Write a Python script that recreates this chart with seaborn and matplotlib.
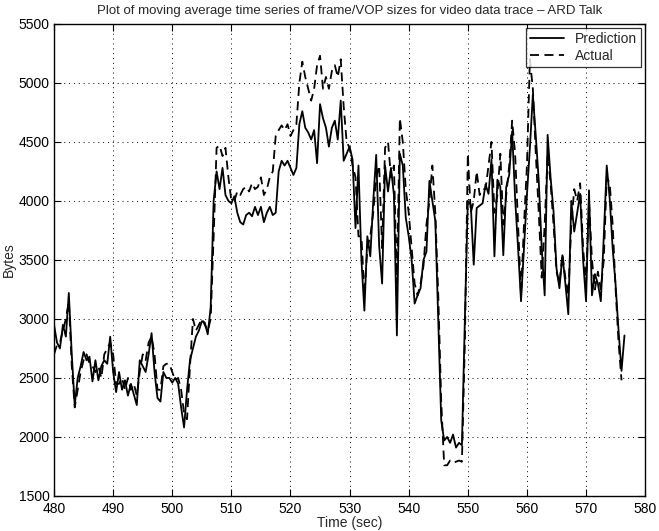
import numpy as np
import pandas as pd
import matplotlib
matplotlib.use("Agg")
import matplotlib.pyplot as plt
import seaborn as sns

# time axis (sec), 0.5 s resolution
t_start = 480.0
t_step = 0.5

prediction = [
    2950, 2800, 2750, 2950, 2850, 3220, 2700, 2270, 2500, 2600,   # 480.0-484.5
    2720, 2650, 2680, 2470, 2650, 2480, 2600, 2650, 2620, 2850,   # 485.0-489.5
    2550, 2380, 2550, 2400, 2480, 2350, 2450, 2360, 2270, 2650,   # 490.0-494.5
    2600, 2550, 2700, 2880, 2550, 2330, 2300, 2550, 2500, 2500,   # 495.0-499.5
    2460, 2500, 2450, 2250, 2080, 2400, 2650, 2750, 2850, 2900,   # 500.0-504.5
    2980, 2970, 2870, 3100, 4000, 4250, 4100, 4280, 4050, 4000,   # 505.0-509.5
    3980, 4040, 3900, 3820, 3800, 3880, 3900, 3870, 3950, 3880,   # 510.0-514.5
    3950, 3820, 3900, 3950, 3880, 3900, 4250, 4340, 4300, 4340,   # 515.0-519.5
    4280, 4220, 4280, 4650, 4760, 4620, 4580, 4520, 4600, 4320,   # 520.0-524.5
    4820, 4700, 4620, 4460, 4620, 4680, 4520, 4850, 4340, 4400,   # 525.0-529.5
    4460, 4350, 3770, 4300, 3500, 3070, 3700, 3530, 4000, 4390,   # 530.0-534.5
    3620, 3300, 4300, 4080, 4280, 4050, 2860, 4400, 4300, 3860,   # 535.0-539.5
    3700, 3500, 3130, 3200, 3260, 3500, 3570, 4170, 4000, 3830,   # 540.0-544.5
    2980, 2140, 1970, 2000, 1950, 2020, 1910, 1950, 1930, 3000,   # 545.0-549.5
    4000, 3970, 3460, 3940, 3960, 3980, 4140, 4060, 4350, 3530,   # 550.0-554.5
    4180, 4120, 3540, 4120, 4220, 4590, 4020, 3600, 3150, 3600,   # 555.0-559.5
    4050, 4450, 4900, 4550, 4170, 3600, 3200, 4560, 4200, 3910,   # 560.0-564.5
    3430, 3260, 3540, 3300, 3040, 4000, 3740, 3900, 4060, 3500,   # 565.0-569.5
    3150, 4090, 3200, 3380, 3300, 3150, 3700, 4300, 4020, 3600,   # 570.0-574.5
    3290, 2900, 2560, 2860,                                       # 575.0-576.5
]

actual = [
    2700, 2780, 2800, 2900, 3000, 3150, 2600, 2250, 2400, 2550,
    2650, 2700, 2620, 2600, 2550, 2600, 2500, 2700, 2750, 2800,
    2700, 2450, 2450, 2500, 2400, 2500, 2400, 2450, 2350, 2550,
    2700, 2650, 2800, 2850, 2700, 2400, 2400, 2600, 2620, 2620,
    2550, 2480, 2500, 2400, 2200, 2150, 2600, 3000, 2900, 2950,
    3000, 2950, 2900, 3000, 3700, 4450, 4470, 4380, 4450, 4200,
    4000, 4000, 4080, 4050, 4100, 4120, 4080, 4150, 4100, 4120,
    4200, 4050, 4100, 4200, 4250, 4550, 4600, 4640, 4600, 4650,
    4550, 4600, 4650, 5000, 5180, 5050, 4950, 4850, 4950, 5150,
    5230, 4950, 5050, 4950, 5100, 5150, 5050, 5200, 4800, 4500,
    4450, 4300, 4200, 3700, 3700, 3200, 3600, 3700, 3900, 4200,
    4300, 3600, 4450, 4500, 4200, 4300, 3300, 4700, 4500, 4100,
    3900, 3600, 3300, 3200, 3300, 3450, 3800, 4000, 4300, 3900,
    3200, 2300, 1760, 1760, 1800, 1780, 1790, 1800, 1790, 2800,
    4400, 3900, 4000, 4250, 4050, 4100, 4100, 4300, 4500, 3900,
    4050, 4400, 3800, 4050, 4300, 4680, 4400, 3800, 3200, 3800,
    4300, 5200, 4950, 4400, 3900, 3350, 3800, 4400, 4150, 3800,
    3400, 3300, 3550, 3350, 3200, 3800, 4100, 4000, 4150, 3600,
    3300, 4000, 3500, 3250, 3400, 3250, 3500, 4200, 4150, 3800,
    3250, 2800, 2480, np.nan,
]

series_names = ["Prediction", "Actual"]
x_ticks = [480, 490, 500, 510, 520, 530, 540, 550, 560, 570, 580]
y_ticks = [1500, 2000, 2500, 3000, 3500, 4000, 4500, 5000, 5500]

time = t_start + t_step * np.arange(len(prediction))
df = pd.concat([
    pd.DataFrame({"Time": time, "Bytes": prediction, "Series": series_names[0]}),
    pd.DataFrame({"Time": time, "Bytes": actual, "Series": series_names[1]}),
]).dropna()

sns.set_theme(style="white")
plt.rcParams["font.family"] = ["Liberation Sans", "DejaVu Sans"]

fig = plt.figure(figsize=(6.59, 5.31), dpi=100)
ax = fig.add_axes([0.082, 0.066, 0.897, 0.889])

sns.lineplot(data=df, x="Time", y="Bytes", style="Series",
             style_order=series_names,
             dashes={"Prediction": "", "Actual": (5, 3)},
             color="black", linewidth=1.3, ax=ax, legend=True)

ax.set_xlim(480, 580)
ax.set_ylim(1500, 5500)
ax.set_xticks(x_ticks)
ax.set_yticks(y_ticks)
ax.tick_params(direction="in", length=5, width=0.8, labelsize=10,
               top=True, right=True, bottom=True, left=True, colors="black")
ax.tick_params(axis="x", pad=4)
ax.tick_params(axis="y", pad=3)
ax.grid(True, linestyle=(0, (1, 4)), color="black", linewidth=0.7)
for s in ax.spines.values():
    s.set_color("black")
    s.set_linewidth(1.0)

ax.set_xlabel("Time (sec)", fontsize=10, labelpad=0)
ax.set_ylabel("Bytes", fontsize=10, labelpad=2)
ax.set_title("Plot of moving average time series of frame/VOP sizes for video data trace \u2013 ARD Talk",
             fontsize=9.5, pad=7)

handles, labels = ax.get_legend_handles_labels()
leg = ax.legend(handles, labels, loc="upper right", fontsize=10,
                frameon=True, fancybox=False, edgecolor="black",
                borderaxespad=0.3, handlelength=2.4, borderpad=0.3,
                labelspacing=0.2)
leg.get_frame().set_linewidth(0.9)

fig.savefig("out.png", dpi=100)
